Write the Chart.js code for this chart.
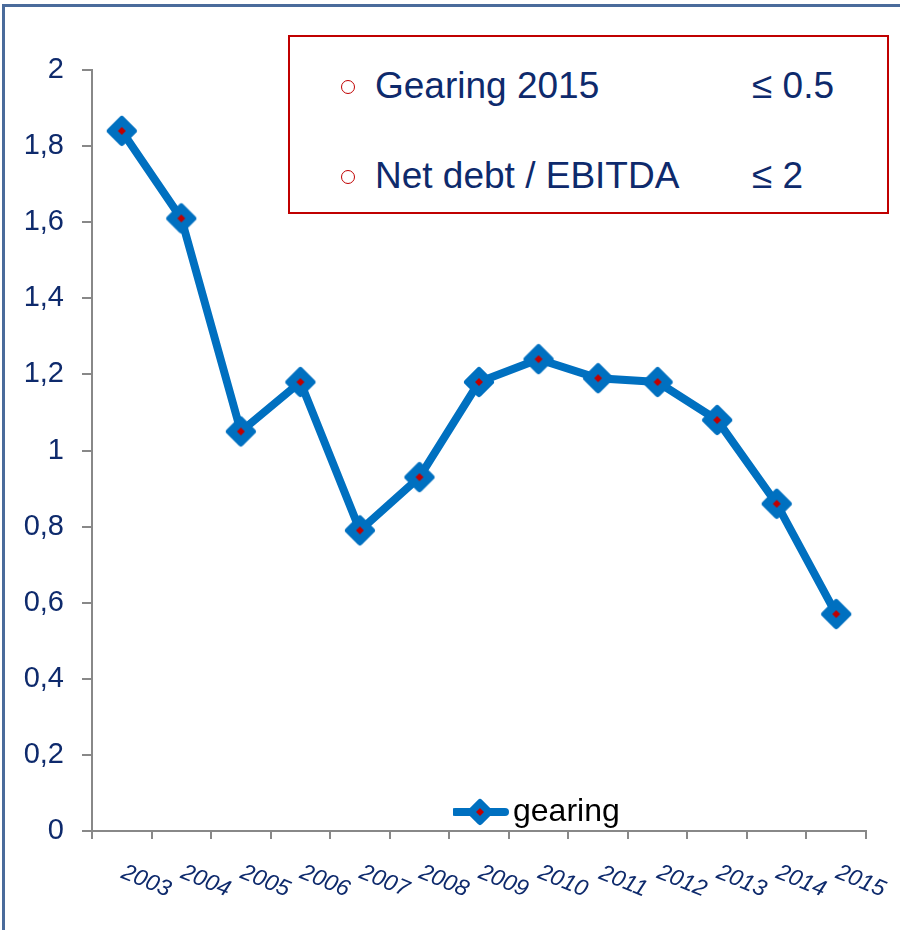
<!DOCTYPE html>
<html>
<head>
<meta charset="utf-8">
<script src="https://cdn.jsdelivr.net/npm/chart.js@4/dist/chart.umd.min.js"></script>
<style>
  body { margin: 0; background: #fff; }
  #wrap { position: relative; width: 900px; height: 930px; overflow: hidden; }
  #frame { position: absolute; left: 2px; top: 4px; width: 910px; height: 940px;
           border-left: 3px solid #4a6b9b; border-top: 3px solid #4a6b9b; pointer-events: none; }
  #targets { position: absolute; left: 288px; top: 35px; width: 597px; height: 175px;
             border: 2px solid #c00000; background: #fff;
             font-family: "Liberation Sans", Arial, sans-serif; font-size: 37px; color: #0e2a6c; }
  .row { position: absolute; left: 0; height: 40px; line-height: 40px; width: 100%; }
  .dot { position: absolute; left: 51px; top: 14px; width: 12px; height: 12px;
         border: 1.5px solid #c00000; border-radius: 50%; }
  .name { position: absolute; left: 85px; }
  .limit { position: absolute; left: 462px; }
</style>
</head>
<body>
<div id="wrap">
  <canvas id="chart" width="900" height="930"></canvas>
  <div id="targets"></div>
  <div id="frame"></div>
</div>
<script>
const years = ['2003', '2004', '2005', '2006', '2007', '2008', '2009', '2010', '2011', '2012', '2013', '2014', '2015'];
const gearing = [1.84, 1.61, 1.05, 1.18, 0.79, 0.93, 1.18, 1.24, 1.19, 1.18, 1.08, 0.86, 0.57];
const targetNames = ['Gearing 2015', 'Net debt / EBITDA'];
const targetLimits = ['≤ 0.5', '≤ 2'];

const navy = '#0e2a6c';
const blue = '#0070c0';
const red = '#c00000';
const grey = '#888888';

// target box
const box = document.getElementById('targets');
targetNames.forEach((name, i) => {
    const row = document.createElement('div');
    row.className = 'row';
    row.style.top = (29 + i * 90) + 'px';
    row.innerHTML = '<span class="dot"></span><span class="name">' + name + '</span><span class="limit">' + targetLimits[i] + '</span>';
    box.appendChild(row);
});

// diamond marker: blue with a small red centre
function diamond(ctx, cx, cy, r) {
    ctx.beginPath();
    ctx.moveTo(cx, cy - r);
    ctx.lineTo(cx + r, cy);
    ctx.lineTo(cx, cy + r);
    ctx.lineTo(cx - r, cy);
    ctx.closePath();
}

function makeMarker(w, h, r, withLine) {
    const c = document.createElement('canvas');
    c.width = w;
    c.height = h;
    const ctx = c.getContext('2d');
    const cx = w / 2, cy = h / 2;
    if (withLine) {
        ctx.strokeStyle = blue;
        ctx.lineWidth = 8;
        ctx.lineCap = 'round';
        ctx.beginPath();
        ctx.moveTo(5, cy);
        ctx.lineTo(w - 5, cy);
        ctx.stroke();
    }
    ctx.fillStyle = blue;
    ctx.strokeStyle = blue;
    ctx.lineWidth = 6;
    ctx.lineJoin = 'round';
    diamond(ctx, cx, cy, r);
    ctx.fill();
    ctx.stroke();
    ctx.fillStyle = red;
    diamond(ctx, cx, cy, 4);
    ctx.fill();
    return c;
}

const pointImg = makeMarker(36, 36, 12, false);
const legendImg = makeMarker(60, 32, 10, true);

// put the legend inside the plot, just above the x axis
const legendInside = {
    id: 'legendInside',
    afterLayout(chart) {
        const lg = chart.legend;
        lg.left = 453;
        lg.right = 900;
        lg.top = 786;
        lg.bottom = 841;
        lg.width = lg.right - lg.left;
        lg.height = lg.bottom - lg.top;
    }
};

new Chart(document.getElementById('chart'), {
    type: 'line',
    data: {
        labels: years,
        datasets: [{
            label: 'gearing',
            data: gearing,
            borderColor: blue,
            backgroundColor: blue,
            borderWidth: 8,
            pointStyle: pointImg,
            pointHoverRadius: 0,
            tension: 0,
            fill: false
        }]
    },
    options: {
        responsive: false,
        animation: false,
        events: [],
        layout: { padding: { top: 70, left: 10, right: 34, bottom: 0 } },
        scales: {
            x: {
                offset: true,
                grid: { offset: true, drawOnChartArea: false, color: grey, lineWidth: 2, tickLength: 8 },
                border: { color: grey, width: 2 },
                ticks: {
                    color: navy,
                    font: { family: '"Liberation Sans", Arial, sans-serif', size: 23, style: 'italic' },
                    minRotation: -22,
                    maxRotation: -22,
                    labelOffset: 48,
                    padding: 39,
                    autoSkip: false
                },
                afterFit: scale => { scale.height = 98; }
            },
            y: {
                min: 0,
                max: 2,
                grid: { drawOnChartArea: false, color: grey, lineWidth: 2, tickLength: 10 },
                border: { color: grey, width: 2 },
                ticks: {
                    stepSize: 0.2,
                    color: navy,
                    padding: 18,
                    font: { family: '"Liberation Sans", Arial, sans-serif', size: 29 },
                    callback: v => String(Math.round(v * 10) / 10).replace('.', ',')
                },
                afterFit: scale => { scale.width = 82; }
            }
        },
        plugins: {
            tooltip: { enabled: false },
            legend: {
                position: 'bottom',
                align: 'start',
                maxHeight: 1,
                labels: {
                    usePointStyle: true,
                    pointStyleWidth: 34,
                    padding: 10,
                    color: navy,
                    font: { family: '"Liberation Sans", Arial, sans-serif', size: 32 },
                    generateLabels: chart => [{
                        text: chart.data.datasets[0].label,
                        pointStyle: legendImg,
                        fillStyle: blue,
                        strokeStyle: blue,
                        lineWidth: 0,
                        datasetIndex: 0
                    }]
                }
            }
        }
    },
    plugins: [legendInside]
});
</script>
</body>
</html>
